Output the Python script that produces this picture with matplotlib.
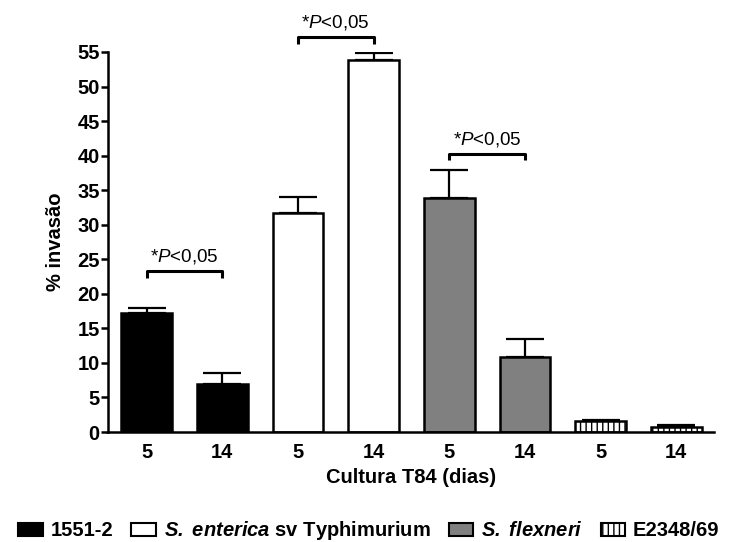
import matplotlib
matplotlib.use("Agg")
import matplotlib.pyplot as plt
from matplotlib.patches import Patch

plt.rcParams["font.family"] = ["Liberation Sans", "DejaVu Sans"]
plt.rcParams["mathtext.fontset"] = "custom"
plt.rcParams["mathtext.rm"] = "Liberation Sans"
plt.rcParams["mathtext.it"] = "Liberation Sans:italic"
plt.rcParams["mathtext.bf"] = "Liberation Sans:bold:italic"
plt.rcParams["hatch.linewidth"] = 1.0

# invasion (%) at 5 and 14 days of T84 culture, per strain
days = ["5", "14", "5", "14", "5", "14", "5", "14"]
strains = [
    "1551-2",
    r"$\mathbf{S.}$ $\mathbf{enterica}$ sv Typhimurium",
    r"$\mathbf{S.}$ $\mathbf{flexneri}$",
    "E2348/69",
]
invasion = [17.2, 6.9, 31.7, 53.9, 33.9, 10.9, 1.55, 0.7]
sem = [0.7, 1.7, 2.3, 0.9, 4.0, 2.5, 0.2, 0.27]
bar_colors = ["black", "black", "white", "white", "#808080", "#808080", "white", "white"]
bar_hatch = ["", "", "", "", "", "", "|||", "|||"]

# significance brackets: (left bar, right bar, height)
brackets = [(0, 1, 23.3), (2, 3, 57.2), (4, 5, 40.3)]
sig_text = r"*$P$<0,05"

fig = plt.figure(figsize=(7.46, 5.42), dpi=100)
ax = fig.add_axes([108 / 746, 1 - 432 / 542, 606 / 746, 380 / 542])

x = list(range(len(invasion)))
ax.bar(x, invasion, width=0.67, color=bar_colors, hatch=bar_hatch,
       edgecolor="black", linewidth=1.8, zorder=2)
ax.errorbar(x, invasion, yerr=[[0] * len(sem), sem], fmt="none",
            ecolor="black", elinewidth=1.6, capsize=13.5, capthick=1.6, zorder=1)

for a, b, h in brackets:
    ax.plot([a, a, b, b], [h - 1.0, h, h, h - 1.0], color="black",
            lw=2.2, clip_on=False, solid_capstyle="butt")
    ax.text((a + b) / 2, h + 0.7, sig_text, ha="center", va="bottom",
            fontsize=13.5, clip_on=False)

ax.set_xlim(-0.51, 7.5)
ax.set_ylim(0, 55)
ax.set_yticks(range(0, 56, 5))
ax.set_xticks(x)
ax.set_xticklabels(days)
ax.tick_params(axis="x", length=0, pad=8, labelsize=14.5)
ax.tick_params(axis="y", length=5, width=1.8, pad=1, labelsize=14.5)
for lab in ax.get_xticklabels() + ax.get_yticklabels():
    lab.set_fontweight("bold")

for side in ["top", "right"]:
    ax.spines[side].set_visible(False)
for side in ["left", "bottom"]:
    ax.spines[side].set_linewidth(1.8)

ax.set_ylabel("% invasão", fontsize=14.5, fontweight="bold", labelpad=9)
ax.set_xlabel("Cultura T84 (dias)", fontsize=14.5, fontweight="bold", labelpad=4)

handles = [
    Patch(facecolor="black", edgecolor="black", linewidth=1.5),
    Patch(facecolor="white", edgecolor="black", linewidth=1.5),
    Patch(facecolor="#808080", edgecolor="black", linewidth=1.5),
    Patch(facecolor="white", edgecolor="black", linewidth=1.5, hatch="|||"),
]
leg = fig.legend(handles, strains, loc="center", ncol=4, frameon=False,
                 bbox_to_anchor=(369 / 746, 1 - 531 / 542),
                 prop={"size": 14.5, "weight": "bold"},
                 handlelength=1.2, handleheight=0.65, handletextpad=0.4,
                 columnspacing=0.9, borderaxespad=0, borderpad=0)

fig.savefig("out.png", dpi=100)
